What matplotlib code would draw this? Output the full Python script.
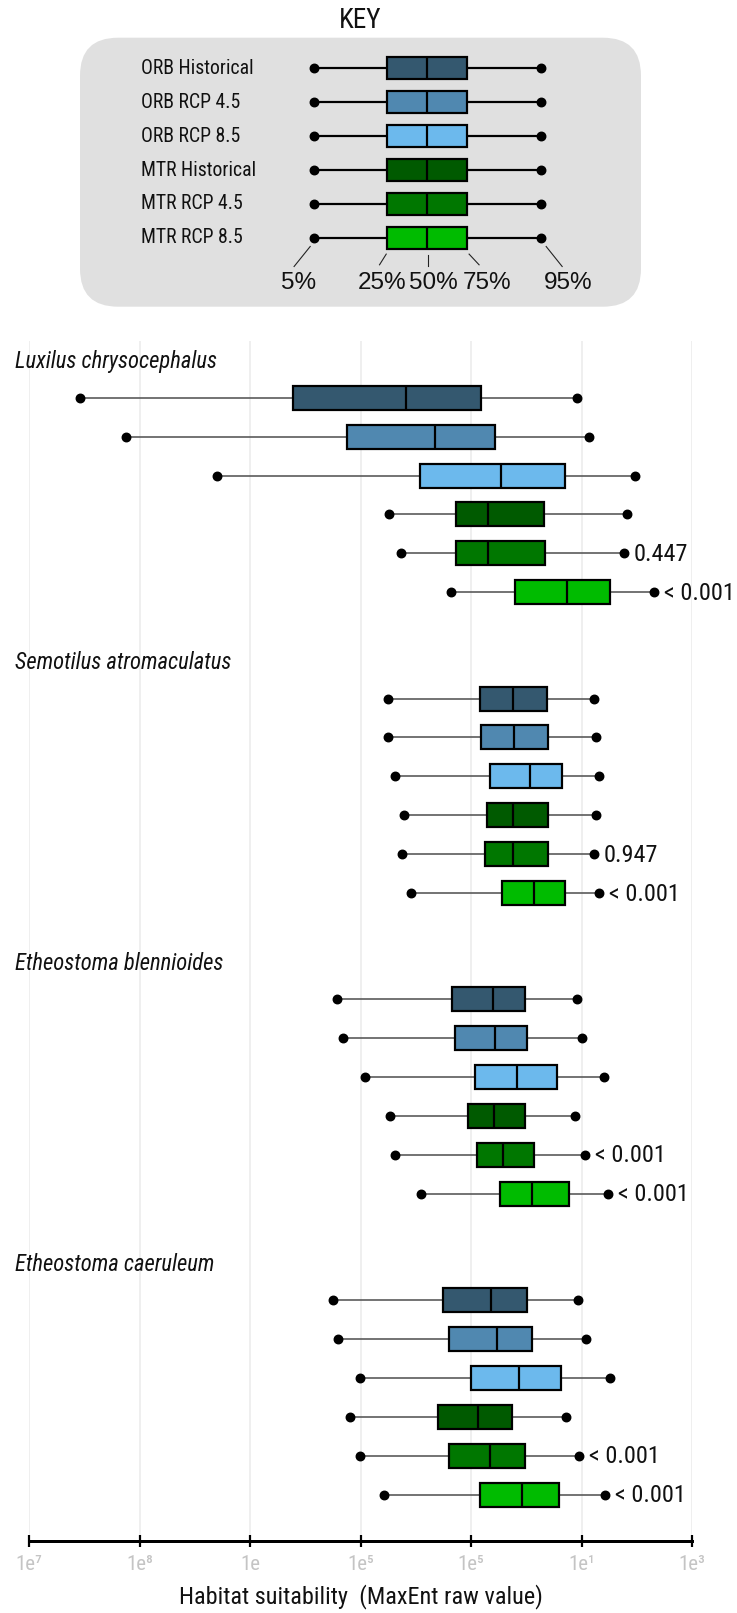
import matplotlib
matplotlib.use("Agg")
import matplotlib.pyplot as plt
import matplotlib.transforms as mtransforms
from matplotlib import font_manager
from matplotlib.patches import FancyBboxPatch

# ---------------- data (log10 of MaxEnt raw value) ----------------
SPECIES = ["Luxilus chrysocephalus", "Semotilus atromaculatus",
           "Etheostoma blennioides", "Etheostoma caeruleum"]
SCENARIOS = ["ORB Historical", "ORB RCP 4.5", "ORB RCP 8.5",
             "MTR Historical", "MTR RCP 4.5", "MTR RCP 8.5"]
COLORS = ["#34586f", "#5088b0", "#6cb9ed", "#005a00", "#007700", "#00bb00"]

P05 = [[-11.08, -10.24, -8.60, -5.49, -5.27, -4.37],
       [-5.51, -5.51, -5.38, -5.22, -5.25, -5.08],
       [-6.43, -6.32, -5.92, -5.46, -5.38, -4.91],
       [-6.50, -6.41, -6.01, -6.19, -6.01, -5.57]]
Q1 = [[-7.23, -6.24, -4.92, -4.28, -4.27, -3.20],
      [-3.83, -3.82, -3.65, -3.71, -3.75, -3.44],
      [-4.35, -4.29, -3.93, -4.06, -3.90, -3.48],
      [-4.50, -4.40, -4.00, -4.59, -4.40, -3.83]]
MED = [[-5.18, -4.65, -3.46, -3.69, -3.69, -2.26],
       [-3.24, -3.23, -2.94, -3.24, -3.24, -2.86],
       [-3.61, -3.56, -3.16, -3.58, -3.42, -2.89],
       [-3.63, -3.53, -3.13, -3.88, -3.65, -3.08]]
Q3 = [[-3.82, -3.57, -2.30, -2.68, -2.66, -1.48],
      [-2.62, -2.60, -2.36, -2.60, -2.60, -2.30],
      [-3.02, -2.98, -2.44, -3.02, -2.86, -2.23],
      [-2.98, -2.89, -2.37, -3.26, -3.02, -2.41]]
P95 = [[-2.08, -1.86, -1.03, -1.17, -1.23, -0.69],
       [-1.77, -1.73, -1.69, -1.74, -1.78, -1.68],
       [-2.09, -1.99, -1.60, -2.11, -1.94, -1.52],
       [-2.07, -1.92, -1.48, -2.28, -2.04, -1.58]]
PVALUES = [["", "", "", "", "0.447", "< 0.001"],
           ["", "", "", "", "0.947", "< 0.001"],
           ["", "", "", "", "< 0.001", "< 0.001"],
           ["", "", "", "", "< 0.001", "< 0.001"]]

KEY_STATS = [-6.84, -5.52, -4.80, -4.08, -2.73]   # 5, 25, 50, 75, 95 %
KEY_LABELS = ["5%", "25%", "50%", "75%", "95%"]

TICKS = [-12, -10, -8, -6, -4, -2, 0]
TICK_LABELS = ["1e\u2077", "1e\u2078", "1e", "1e\u2075", "1e\u2075", "1e\u00b9", "1e\u00b3"]
XLABEL = "Habitat suitability  (MaxEnt raw value)"

# ---------------- fonts ----------------
fl = font_manager.fontManager.ttflist
names = {f.name for f in fl}
STRETCH = "normal"
SCALE = 1.0
if "Liberation Sans Narrow" in names:
    NARROW = "Liberation Sans Narrow"
elif "Roboto Condensed" in names:
    NARROW = "Roboto Condensed"
elif any(f.name == "DejaVu Sans" and str(f.stretch) in ("condensed", "semi-condensed") for f in fl):
    NARROW = "DejaVu Sans"
    STRETCH = "condensed"
    SCALE = 0.86
elif "Roboto" in names:
    NARROW = "Roboto"
    SCALE = 0.86
else:
    NARROW = "DejaVu Sans"
    SCALE = 0.78
REG = "Liberation Sans" if "Liberation Sans" in names else "DejaVu Sans"
NARROW_F = [NARROW, "DejaVu Sans"]
NF = dict(family=NARROW_F, fontstretch=STRETCH)

W, H, DPI = 737, 1613, 100


def pt(px):
    return px * 72.0 / DPI


def fs(size):
    return size * SCALE


fig = plt.figure(figsize=(W / DPI, H / DPI), dpi=DPI)
fig.patch.set_facecolor("white")

# ---------------- main axes ----------------
AX_L, AX_R, AX_T, AX_B = 29, 692, 341, 1541
ax = fig.add_axes([AX_L / W, 1 - AX_B / H, (AX_R - AX_L) / W, (AX_B - AX_T) / H])
ROW_PX = 38.9
GROUP_STEP = 300.8 / ROW_PX

title_tr = mtransforms.blended_transform_factory(fig.transFigure, ax.transData)
box_w = 24 / ROW_PX


def draw_boxes(axis, stats_rows, positions, width, whisker_color, whisker_lw):
    stats = [dict(whislo=r[0], q1=r[1], med=r[2], q3=r[3], whishi=r[4]) for r in stats_rows]
    kw = dict(positions=positions, widths=width, showcaps=False, showfliers=False,
              patch_artist=True, manage_ticks=False,
              boxprops=dict(edgecolor="black", linewidth=pt(2.2)),
              medianprops=dict(color="black", linewidth=pt(2.2)),
              whiskerprops=dict(color=whisker_color, linewidth=whisker_lw))
    try:
        res = axis.bxp(stats, orientation="horizontal", **kw)
    except TypeError:
        res = axis.bxp(stats, vert=False, **kw)
    for patch, c in zip(res["boxes"], COLORS):
        patch.set_facecolor(c)
    for w in res["whiskers"]:
        w.set_zorder(1.5)
    lo = [r[0] for r in stats_rows]
    hi = [r[4] for r in stats_rows]
    axis.plot(lo, positions, "o", color="black", ms=pt(8.5), zorder=3, clip_on=False)
    axis.plot(hi, positions, "o", color="black", ms=pt(8.5), zorder=3, clip_on=False)


for g, sp in enumerate(SPECIES):
    pos = [g * GROUP_STEP + r for r in range(len(SCENARIOS))]
    rows = [(P05[g][r], Q1[g][r], MED[g][r], Q3[g][r], P95[g][r]) for r in range(len(SCENARIOS))]
    draw_boxes(ax, rows, pos, box_w, "#555555", pt(1.6))
    ax.text(15 / W, pos[0] - 0.918, sp, transform=title_tr, style="italic",
            fontsize=fs(16.3), va="center", ha="left", color="#111111", **NF)
    for r, pv in enumerate(PVALUES[g]):
        if pv:
            ax.annotate(pv, (P95[g][r], pos[r]), xytext=(10, -1), textcoords="offset pixels",
                        va="center", ha="left", fontsize=fs(17.5),
                        color="#111111", annotation_clip=False, **NF)

ax.set_xlim(TICKS[0], TICKS[-1])
ax.set_ylim((AX_B - 397.7) / ROW_PX, (AX_T - 397.7) / ROW_PX)
ax.set_facecolor("none")
for s in ["top", "left", "right"]:
    ax.spines[s].set_visible(False)
ax.spines["bottom"].set_linewidth(pt(3))
ax.spines["bottom"].set_bounds(TICKS[0], TICKS[-1])
ax.set_xticks(TICKS)
ax.set_xticklabels(TICK_LABELS, fontsize=fs(15), color="#c4c4c4", **NF)
ax.tick_params(axis="x", direction="inout", length=pt(12), width=pt(2.2), pad=pt(8))
ax.set_yticks([])
ax.tick_params(axis="y", left=False, labelleft=False)
ax.grid(axis="x", color="#ebebeb", linewidth=pt(1.5))
ax.set_axisbelow(True)
ax.set_xlabel(XLABEL, fontsize=fs(17.5), color="#111111", va="center", **NF)
ax.xaxis.set_label_coords(0.5, -(1596.7 - AX_B) / (AX_B - AX_T))

# ---------------- key ----------------
K_T, K_B = 37.7, 306.7
K_ROW = 33.9
kax = fig.add_axes([AX_L / W, 1 - K_B / H, (AX_R - AX_L) / W, (K_B - K_T) / H])
kax.axis("off")

bg = FancyBboxPatch((80, H - K_B), 561, K_B - K_T,
                    boxstyle="round,pad=0,rounding_size=38",
                    transform=mtransforms.IdentityTransform(),
                    facecolor="#e0e0e0", edgecolor="none", zorder=-5)
fig.add_artist(bg)

fig.text(0.5 * (AX_L + AX_R) / W, 1 - 20 / H, "KEY", fontsize=fs(19.5),
         ha="center", va="center", color="#111111", **NF)

kpos = list(range(len(SCENARIOS)))
draw_boxes(kax, [tuple(KEY_STATS)] * len(SCENARIOS), kpos, 21.7 / K_ROW, "black", pt(2.2))
kax.set_xlim(TICKS[0], TICKS[-1])
kax.set_ylim((K_B - 68.3) / K_ROW, (K_T - 68.3) / K_ROW)
key_tr = mtransforms.blended_transform_factory(fig.transFigure, kax.transData)
for i, lab in enumerate(SCENARIOS):
    kax.text(141.4 / W, i, lab, transform=key_tr, fontsize=fs(14.2),
             va="center", ha="left", color="#111111", **NF)

# percentile labels with leader lines (offsets in pixels from the mark)
PX_PER_X = (AX_R - AX_L) / (TICKS[-1] - TICKS[0])
LEADERS = [(-3.9, 8.7, -20.0, 28.7, -15.7),
           (-0.8, 16.3, -7.5, 27.0, -5.0),
           (1.4, 17.0, 1.4, 28.7, 6.8),
           (2.5, 16.3, 12.5, 27.0, 20.2),
           (5.0, 8.7, 21.0, 28.7, 27.2)]
last = kpos[-1]
for v, lab, (sx, sy, ex, ey, tx) in zip(KEY_STATS, KEY_LABELS, LEADERS):
    kax.plot([v + sx / PX_PER_X, v + ex / PX_PER_X], [last + sy / K_ROW, last + ey / K_ROW],
             color="#222222", lw=pt(1.1), clip_on=False)
    kax.text(v + tx / PX_PER_X, last + 45.3 / K_ROW, lab, family=REG, fontsize=17.5,
             ha="center", va="center", color="#111111", clip_on=False)

fig.savefig("out.png", dpi=DPI, facecolor="white")
